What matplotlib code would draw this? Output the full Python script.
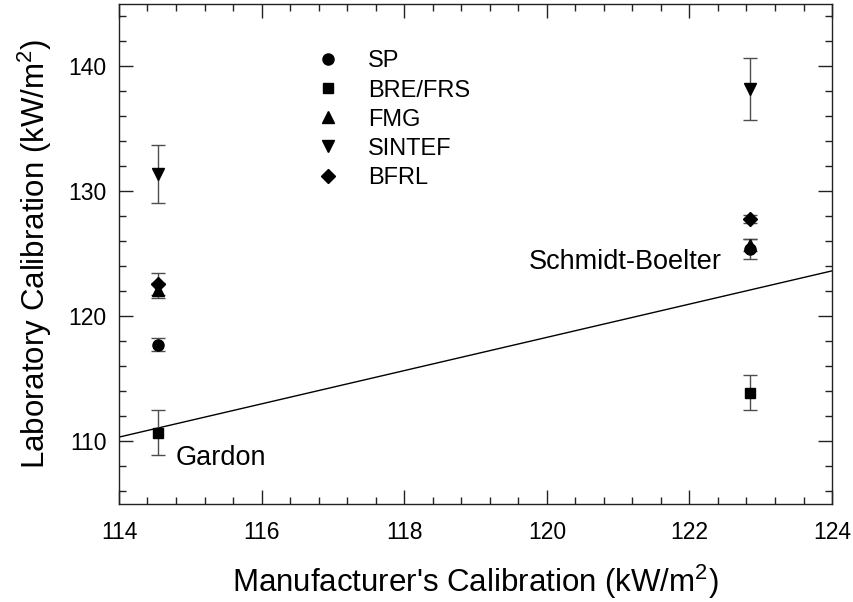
import matplotlib
matplotlib.use("Agg")
import matplotlib.pyplot as plt
from matplotlib.ticker import MultipleLocator

plt.rcParams['font.family'] = ['Liberation Sans', 'DejaVu Sans']
plt.rcParams['mathtext.fontset'] = 'custom'
plt.rcParams['mathtext.rm'] = 'Liberation Sans'
plt.rcParams['mathtext.it'] = 'Liberation Sans:italic'

# Data
gauge_x = [114.55, 122.85]           # Gardon, Schmidt-Boelter manufacturer's calibration
labs = ['SP', 'BRE/FRS', 'FMG', 'SINTEF', 'BFRL']
markers = ['o', 's', '^', 'v', 'D']
sp_y = [117.75, 125.4]
sp_err = [0.55, 0.8]
bre_y = [110.7, 113.9]
bre_err = [1.8, 1.4]
fmg_y = [122.1, 125.7]
fmg_err = [0.6, 0.5]
sintef_y = [131.4, 138.2]
sintef_err = [2.3, 2.5]
bfrl_y = [122.6, 127.8]
bfrl_err = [0.9, 0.35]
line_x = [114, 124]
line_y = [110.35, 123.65]

series_y = [sp_y, bre_y, fmg_y, sintef_y, bfrl_y]
series_err = [sp_err, bre_err, fmg_err, sintef_err, bfrl_err]
msizes = [8, 7, 8, 8, 7]

fig = plt.figure(figsize=(8.54, 6.02), dpi=100)
ax = fig.add_axes([0.1393, 0.1628, 0.835, 0.8306])

ax.plot(line_x, line_y, color='black', lw=1.0, zorder=2)

handles = []
for lab, m, ys, es, ms in zip(labs, markers, series_y, series_err, msizes):
    ax.errorbar(gauge_x, ys, yerr=es, fmt='none', ecolor='#4d4d4d',
                elinewidth=1.0, capsize=5, capthick=1.0, zorder=3)
    h, = ax.plot(gauge_x, ys, linestyle='none', marker=m, color='black',
                 markersize=ms, label=lab, zorder=4)
    handles.append(h)

ax.set_xlim(114, 124)
ax.set_ylim(105, 145)
ax.xaxis.set_major_locator(MultipleLocator(2))
ax.xaxis.set_minor_locator(MultipleLocator(0.4))
ax.yaxis.set_major_locator(MultipleLocator(10))
ax.yaxis.set_minor_locator(MultipleLocator(2))
ax.tick_params(which='both', direction='in', top=True, right=True,
               width=1.0, color='#222222')
ax.tick_params(which='major', length=10, labelsize=16.5)
ax.tick_params(axis='x', which='major', pad=12)
ax.tick_params(axis='y', which='major', pad=9)
ax.tick_params(which='minor', length=5)
for s in ax.spines.values():
    s.set_linewidth(1.0)
    s.set_color('#222222')

ax.set_xlabel("Manufacturer's Calibration (kW/m$^2$)", fontsize=22.5, labelpad=14)
ax.set_ylabel("Laboratory Calibration (kW/m$^2$)", fontsize=22.5, labelpad=10)

ax.text(114.8, 108.1, 'Gardon', fontsize=19.5, va='baseline', ha='left')
ax.text(122.46, 123.76, 'Schmidt-Boelter', fontsize=19.5, va='baseline', ha='right')

ax.legend(handles=handles, loc='upper left', bbox_to_anchor=(0.2767, 0.907),
          frameon=False, fontsize=17, numpoints=1, handlelength=1.0,
          handletextpad=1.19, labelspacing=0.30, borderpad=0, borderaxespad=0)

fig.savefig('out.png', dpi=100)
